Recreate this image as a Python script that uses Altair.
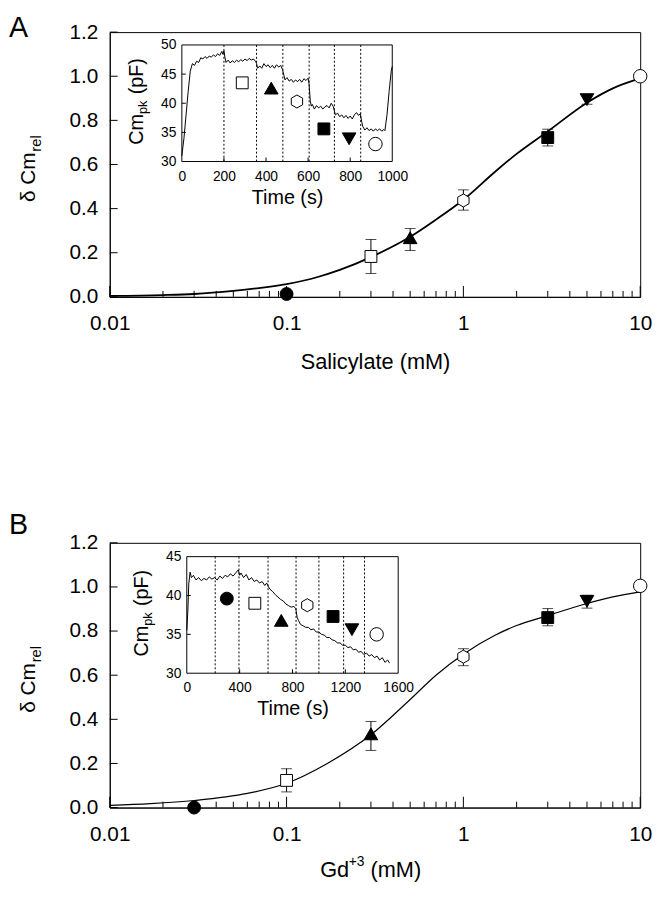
import altair as alt
import pandas as pd

FONT = "Liberation Sans"
W, H = 537, 268
HEX = "M0,-1L0.866,-0.5L0.866,0.5L0,1L-0.866,0.5L-0.866,-0.5Z"

# symbol order: filled circle, open square, filled triangle, open hexagon,
# filled square, filled down-triangle, open circle
SYM_SHAPE = ["circle", "square", "triangle-up", HEX, "square", "triangle-down", "circle"]
SYM_FILL = ["black", "white", "black", "white", "black", "black", "white"]
SYM_SIZE = [170, 144, 190, 175, 144, 190, 185]

Y_TICKS = [0.0, 0.2, 0.4, 0.6, 0.8, 1.0, 1.2]
X_MAJOR = [0.01, 0.1, 1.0, 10.0]
X_MINOR = [0.02, 0.03, 0.04, 0.05, 0.06, 0.07, 0.08, 0.09,
           0.2, 0.3, 0.4, 0.5, 0.6, 0.7, 0.8, 0.9,
           2, 3, 4, 5, 6, 7, 8, 9]

# ---------------- Panel A (salicylate) ----------------
A_CONC = [0.1, 0.3, 0.5, 1.0, 3.0, 5.0, 10.0]
A_MEAN = [0.013, 0.183, 0.268, 0.437, 0.722, 0.894, 1.0]
A_LO = [None, 0.106, 0.21, 0.393, 0.684, 0.873, None]
A_HI = [None, 0.26, 0.31, 0.485, 0.76, 0.917, None]
A_FIT_X = [0.01, 0.02, 0.03, 0.05, 0.07, 0.1, 0.15, 0.2, 0.3, 0.5, 0.7, 1.0, 1.5, 2.0, 3.0, 5.0, 7.0, 10.0]
A_FIT_Y = [0.004, 0.008, 0.013, 0.027, 0.04, 0.058, 0.09, 0.122, 0.18, 0.272, 0.35, 0.44, 0.565, 0.648, 0.75, 0.88, 0.945, 0.99]

A_T = [0, 10, 20, 30, 40, 50, 60, 70, 80, 90, 100, 110, 120, 130, 140, 150, 160, 170, 180, 190, 195, 200,
       205, 210, 220, 230, 240, 250, 260, 270, 280, 290, 300, 310, 320, 330, 340, 350, 355, 360, 370, 380,
       390, 400, 410, 420, 430, 440, 450, 460, 470, 478, 485, 490, 500, 510, 520, 530, 540, 550, 560, 570,
       580, 590, 600, 605, 610, 615, 620, 630, 640, 650, 660, 670, 680, 690, 700, 710, 720, 726, 730, 740,
       750, 760, 770, 780, 790, 800, 810, 820, 830, 840, 848, 855, 860, 870, 880, 890, 900, 910, 920, 930,
       940, 950, 960, 965, 975, 985, 995, 1000]
A_V = [31.0, 34.0, 38.0, 42.0, 45.5, 46.8, 46.5, 47.2, 47.0, 47.8, 47.6, 48.0, 47.7, 48.1, 47.9, 48.3, 48.0,
       48.5, 48.2, 48.9, 48.4, 49.0,
       47.8, 47.0, 47.4, 46.9, 47.3, 47.0, 47.4, 47.1, 47.5, 47.2, 47.6, 47.3, 47.7, 47.4, 47.6, 47.2, 46.8,
       46.0, 46.4, 46.0,
       46.8, 46.3, 46.6, 46.1, 46.5, 46.0, 46.6, 46.2, 46.5, 45.8, 44.8, 44.0, 44.4, 43.8, 44.1, 43.6, 44.0,
       43.7, 44.1, 43.6,
       44.2, 43.9, 44.3, 43.2, 40.5, 39.5, 39.8, 39.0, 39.6, 39.2, 39.5, 39.0, 39.4, 39.6, 39.2, 40.0, 39.4,
       38.5, 38.0, 38.3,
       37.7, 38.0, 37.5, 37.9, 37.4, 37.8, 37.3, 38.0, 38.4, 37.9, 38.2, 36.8, 36.0, 35.4, 35.8, 35.3, 35.6,
       35.2, 35.6, 35.3,
       35.6, 35.2, 35.5, 35.3, 38.0, 42.0, 45.5, 46.3]
A_STEPS = [200, 355, 480, 605, 725, 850]
A_SYM_T = [287, 425, 547, 675, 795, 920]
A_SYM_V = [43.5, 42.6, 40.3, 35.6, 33.9, 33.0]

# ---------------- Panel B (Gd3+) ----------------
B_CONC = [0.03, 0.1, 0.3, 1.0, 3.0, 5.0, 10.0]
B_MEAN = [0.0, 0.123, 0.334, 0.684, 0.861, 0.935, 1.005]
B_LO = [None, 0.071, 0.259, 0.643, 0.824, 0.904, None]
B_HI = [None, 0.176, 0.39, 0.72, 0.902, 0.962, None]
B_FIT_X = [0.01, 0.017, 0.03, 0.06, 0.1, 0.17, 0.3, 0.5, 0.7, 1.0, 1.5, 2.0, 3.0, 5.0, 7.0, 10.0]
B_FIT_Y = [0.01, 0.018, 0.032, 0.064, 0.11, 0.2, 0.33, 0.49, 0.6, 0.695, 0.78, 0.825, 0.87, 0.925, 0.955, 0.978]

B_T = [0, 8, 15, 25, 35, 50, 70, 90, 110, 130, 150, 170, 190, 210, 230, 250, 270, 290, 310, 330, 350, 370,
       390, 400, 410, 430, 450, 470, 490, 510, 530, 550, 570, 590, 605, 615, 630, 650, 670, 690, 710, 730,
       750, 770, 790, 810, 825, 835, 845, 860, 880, 900, 920, 940, 960, 980, 1000, 1020, 1040, 1060, 1080,
       1100, 1120, 1140, 1160, 1180, 1200, 1220, 1240, 1260, 1280, 1300, 1320, 1340, 1360, 1380, 1400, 1420,
       1440, 1460, 1480, 1500, 1520, 1535]
B_V = [35.5, 38.0, 41.5, 43.0, 42.3, 42.6, 42.0, 42.3, 41.9, 42.2, 42.0, 42.4, 42.1, 42.3, 42.0, 42.5, 42.2,
       42.6, 42.4, 42.8, 42.5, 42.9,
       43.3, 42.6, 42.9, 42.3, 42.7, 42.0, 42.3, 41.8, 42.0, 41.6, 41.8, 41.3, 41.6, 41.2, 40.8, 40.5, 40.1,
       39.8, 39.5, 39.3,
       38.9, 38.7, 38.5, 38.6, 38.3, 37.2, 36.8, 36.3, 36.1, 35.9, 35.9, 35.6, 35.7, 35.3, 35.3, 35.0, 34.9,
       34.6, 34.6,
       34.3, 34.2, 33.9, 33.9, 33.6, 33.6, 33.3, 33.4, 33.0, 33.1, 32.7, 32.8, 32.4, 32.6, 32.2, 32.4, 32.0,
       32.2, 31.7, 32.0, 31.4, 31.7, 31.3]
B_STEPS = [215, 395, 615, 827, 1000, 1187, 1345]
B_SYM_T = [303, 515, 715, 912, 1107, 1250, 1437]
B_SYM_V = [39.6, 39.0, 36.8, 38.75, 37.3, 35.6, 35.0]


def txt(s, x, y, size, angle=0, align="left", baseline="alphabetic"):
    return alt.Chart(alt.Data(values=[{}])).mark_text(
        text=s, fontSize=size, font=FONT, angle=angle, align=align,
        baseline=baseline, color="black").encode(x=alt.value(x), y=alt.value(y))


def main_group(letter, letter_y, conc, mean, lo, hi, fit_x, fit_y, xtitle, fit_w):
    xs = alt.Scale(type="log", domain=[0.01, 10], nice=False)
    ys = alt.Scale(domain=[0, 1.2], nice=False, zero=False)
    xkw = dict(values=X_MAJOR, format="~g", ticks=False, grid=False, labelFontSize=21,
               labelPadding=16, labelFlush=False, labelOverlap=False, domainColor="black",
               labelColor="black", zindex=1)
    if xtitle:
        xkw.update(title=xtitle, titleFontSize=22, titlePadding=19, titleFontWeight="normal",
                   titleColor="black")
    else:
        xkw.update(title=None)
    xa = alt.Axis(**xkw)
    ya = alt.Axis(values=Y_TICKS, format=".1f", ticks=False, grid=False, labelFontSize=21,
                  labelPadding=12, domainColor="black", labelColor="black", title=None, zindex=1)

    pts = pd.DataFrame({"c": conc, "v": mean, "shape": SYM_SHAPE, "fill": SYM_FILL, "size": SYM_SIZE})
    eb = pd.DataFrame({"c": conc, "lo": lo, "hi": hi}).dropna()
    caps = pd.concat([eb[["c"]].assign(y=eb["lo"]), eb[["c"]].assign(y=eb["hi"])])

    fit = alt.Chart(pd.DataFrame({"c": fit_x, "v": fit_y})).mark_line(
        color="black", strokeWidth=fit_w, interpolate="monotone").encode(
        x=alt.X("c:Q", scale=xs, axis=xa), y=alt.Y("v:Q", scale=ys, axis=ya))
    bars = alt.Chart(eb).mark_rule(color="black", strokeWidth=1).encode(
        x=alt.X("c:Q", scale=xs, axis=xa), y=alt.Y("lo:Q", scale=ys, axis=ya), y2="hi:Q")
    capm = alt.Chart(caps).mark_tick(orient="horizontal", size=11, thickness=1, color="black").encode(
        x=alt.X("c:Q", scale=xs, axis=xa), y=alt.Y("y:Q", scale=ys, axis=ya))
    sym = alt.Chart(pts).mark_point(filled=True, stroke="black", strokeWidth=1, opacity=1,
                                    fillOpacity=1).encode(
        x=alt.X("c:Q", scale=xs, axis=xa), y=alt.Y("v:Q", scale=ys, axis=ya),
        shape=alt.Shape("shape:N", scale=None), fill=alt.Fill("fill:N", scale=None),
        size=alt.Size("size:Q", scale=None))
    ytk = alt.Chart(pd.DataFrame({"v": Y_TICKS})).mark_rule(color="black", strokeWidth=1).encode(
        y=alt.Y("v:Q", scale=ys, axis=ya), x=alt.value(0), x2=alt.value(8))
    xmaj = alt.Chart(pd.DataFrame({"c": X_MAJOR})).mark_rule(color="black", strokeWidth=1).encode(
        x=alt.X("c:Q", scale=xs, axis=xa), y=alt.value(H), y2=alt.value(H - 11))
    xmin = alt.Chart(pd.DataFrame({"c": X_MINOR})).mark_rule(color="black", strokeWidth=1).encode(
        x=alt.X("c:Q", scale=xs, axis=xa), y=alt.value(H), y2=alt.value(H - 6))

    labels = [
        txt(letter, -102, letter_y, 29, baseline="top"),
        txt("\u03b4 Cm", -76, 172, 21, angle=270),
        txt("rel", -70, 121, 15, angle=270),
    ]
    return alt.layer(fit, bars, capm, sym, ytk, xmaj, xmin, *labels)


def inset_group(t, v, steps, st, sv, shapes, fills, sizes, xdom, xvals, ydom, yvals, x0, x1, y0, y1):
    ixs = alt.Scale(domain=xdom, range=[x0, x1], nice=False, zero=False)
    iys = alt.Scale(domain=ydom, range=[y1, y0], nice=False, zero=False)
    ixa = alt.Axis(orient="bottom", offset=y1 - H, values=xvals, format="d", ticks=False, domain=False,
                   grid=False, labelFontSize=14, labelPadding=8, labelFlush=False, labelOverlap=False,
                   labelColor="black", title="Time (s)", titleFontSize=20, titlePadding=4,
                   titleFontWeight="normal", titleColor="black", zindex=1)
    iya = alt.Axis(orient="left", offset=-x0, values=yvals, format="d", ticks=False, domain=False,
                   grid=False, labelFontSize=14, labelPadding=6, labelColor="black", title=None, zindex=1)

    frame = alt.Chart(pd.DataFrame({"a": [xdom[0]], "b": [xdom[1]], "c": [ydom[0]], "d": [ydom[1]]})).mark_rect(
        fill="white", stroke="black", strokeWidth=1).encode(
        x=alt.X("a:Q", scale=ixs, axis=ixa), x2="b:Q", y=alt.Y("c:Q", scale=iys, axis=iya), y2="d:Q")
    dots = alt.Chart(pd.DataFrame({"t": steps, "lo": ydom[0], "hi": ydom[1]})).mark_rule(
        color="black", strokeWidth=1, strokeDash=[2, 2]).encode(
        x=alt.X("t:Q", scale=ixs, axis=ixa), y=alt.Y("lo:Q", scale=iys, axis=iya), y2="hi:Q")
    trace = alt.Chart(pd.DataFrame({"t": t, "v": v})).mark_line(color="black", strokeWidth=1).encode(
        x=alt.X("t:Q", scale=ixs, axis=ixa), y=alt.Y("v:Q", scale=iys, axis=iya))
    sym = alt.Chart(pd.DataFrame({"t": st, "v": sv, "shape": shapes, "fill": fills, "size": sizes})).mark_point(
        filled=True, stroke="black", strokeWidth=1, opacity=1, fillOpacity=1).encode(
        x=alt.X("t:Q", scale=ixs, axis=ixa), y=alt.Y("v:Q", scale=iys, axis=iya),
        shape=alt.Shape("shape:N", scale=None), fill=alt.Fill("fill:N", scale=None),
        size=alt.Size("size:Q", scale=None))
    xt = alt.Chart(pd.DataFrame({"t": xvals[1:-1]})).mark_rule(color="black", strokeWidth=1).encode(
        x=alt.X("t:Q", scale=ixs, axis=ixa), y=alt.value(y1), y2=alt.value(y1 - 4))
    yt = alt.Chart(pd.DataFrame({"v": yvals[1:-1]})).mark_rule(color="black", strokeWidth=1).encode(
        y=alt.Y("v:Q", scale=iys, axis=iya), x=alt.value(x0), x2=alt.value(x0 + 4))
    labels = [
        txt("Cm", x0 - 39, y0 + 101, 20, angle=270),
        txt("pk", x0 - 35, y0 + 70, 13, angle=270),
        txt("(pF)", x0 - 39, y0 + 50, 20, angle=270),
    ]
    return alt.layer(frame, dots, trace, sym, xt, yt, *labels)


mainA = main_group("A", -18, A_CONC, A_MEAN, A_LO, A_HI, A_FIT_X, A_FIT_Y, "Salicylate (mM)", 1.8)
insA = inset_group(A_T, A_V, A_STEPS, A_SYM_T, A_SYM_V, SYM_SHAPE[1:], SYM_FILL[1:], SYM_SIZE[1:],
                   [0, 1000], [0, 200, 400, 600, 800, 1000], [30, 50], [30, 35, 40, 45, 50],
                   73, 286, 13, 131)
panelA = alt.layer(mainA, insA).resolve_scale(x="independent", y="independent").properties(width=W, height=H)

mainB = main_group("B", -32, B_CONC, B_MEAN, B_LO, B_HI, B_FIT_X, B_FIT_Y, None, 1.2)
gd = [txt("Gd", 213, H + 70, 22), txt("+3", 242, H + 59, 14), txt("(mM)", 264, H + 70, 22)]
mainB = alt.layer(mainB, *gd)
insB = inset_group(B_T, B_V, B_STEPS, B_SYM_T, B_SYM_V, SYM_SHAPE, SYM_FILL, SYM_SIZE,
                   [0, 1600], [0, 400, 800, 1200, 1600], [30, 45], [30, 35, 40, 45],
                   78, 292, 14, 132)
panelB = alt.layer(mainB, insB).resolve_scale(x="independent", y="independent").properties(width=W, height=H)

chart = alt.vconcat(panelA, panelB, spacing=138).properties(
    padding={"left": 0, "top": 0, "right": 4, "bottom": 0}
).configure_view(stroke="black", strokeWidth=1).configure_axis(labelFont=FONT, titleFont=FONT)

chart.save("out.html", embed_options={"renderer": "svg", "actions": False})
